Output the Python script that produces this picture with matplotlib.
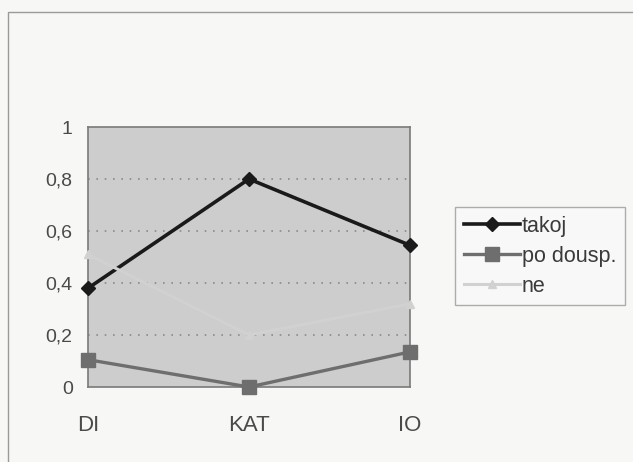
import matplotlib
matplotlib.use("Agg")
import matplotlib.pyplot as plt
from matplotlib.patches import Rectangle

categories = ["DI", "KAT", "IO"]
takoj = [0.38, 0.80, 0.545]
po_dousp = [0.105, 0.0, 0.135]
ne = [0.51, 0.20, 0.32]
y_ticks = [0, 0.2, 0.4, 0.6, 0.8, 1]
y_labels = ["0", "0,2", "0,4", "0,6", "0,8", "1"]

plt.rcParams['font.family'] = ['Liberation Sans', 'DejaVu Sans']

fig = plt.figure(figsize=(6.33, 4.62), dpi=100)
fig.patch.set_facecolor('#f7f7f5')

# outer chart frame
fig.patches.append(Rectangle((8 / 633, -0.05), 1.1, 1 - 12 / 462 + 0.05,
                             transform=fig.transFigure, fill=False,
                             edgecolor='#9a9a9a', linewidth=1.0))

ax = fig.add_axes([88 / 633, 1 - 387 / 462, (410 - 88) / 633, (387 - 127) / 462])
ax.set_facecolor('#cdcdcd')
x = list(range(len(categories)))

ax.plot(x, takoj, color='#1a1a1a', marker='D', markersize=7, linewidth=2.6,
        clip_on=False, label='takoj', zorder=3)
ax.plot(x, po_dousp, color='#6e6e6e', marker='s', markersize=10, linewidth=2.4,
        clip_on=False, label='po dousp.', zorder=3)
# light series, nearly the colour of the plot area
ax.plot(x, ne, color='#d1d1d1', marker='^', markersize=6, linewidth=2.2,
        clip_on=False, label='ne', zorder=4)

ax.set_xlim(0, 2)
ax.set_ylim(0, 1)
ax.set_yticks(y_ticks)
ax.set_yticklabels(y_labels)
ax.set_xticks(x)
ax.set_xticklabels(categories)
ax.tick_params(axis='both', length=0, labelsize=14, colors='#4a4a4a')
ax.tick_params(axis='y', pad=11)
ax.tick_params(axis='x', pad=20, labelsize=16)

for yv in y_ticks[1:-1]:
    ax.axhline(yv, color='#8a8a8a', linestyle=(0, (1, 4)), linewidth=1.2, zorder=1)

for s in ax.spines.values():
    s.set_color('#7a7a7a')
    s.set_linewidth(1.2)

handles, labels = ax.get_legend_handles_labels()
leg = fig.legend(handles, labels,
                 loc='upper left', bbox_to_anchor=(455 / 633, 1 - 207 / 462),
                 fontsize=15.5, frameon=True, fancybox=False, handlelength=2.6,
                 handletextpad=0.1, borderpad=0.4, labelspacing=0.42,
                 borderaxespad=0, labelcolor='#3a3a3a')
leg.get_frame().set_edgecolor('#9a9a9a')
leg.get_frame().set_facecolor('#f9f9f9')
leg.get_frame().set_linewidth(1.0)

fig.savefig('out.png', dpi=100, facecolor=fig.get_facecolor())
